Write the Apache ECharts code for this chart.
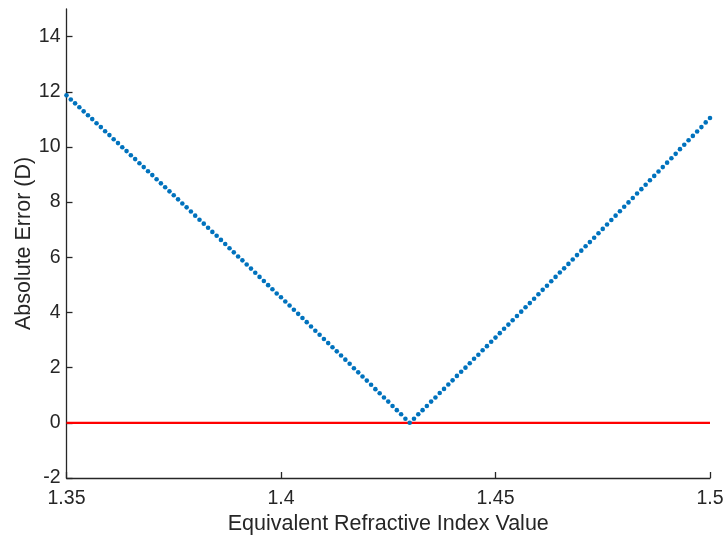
<!DOCTYPE html>
<html>
<head>
<meta charset="utf-8">
<script src="https://cdn.jsdelivr.net/npm/echarts@6/dist/echarts.min.js"></script>
<style>
  html, body { margin: 0; padding: 0; background: #ffffff; }
  #chart { width: 726px; height: 536px; }
</style>
</head>
<body>
<div id="chart"></div>
<script>
// Refractive index sweep: 1.350 to 1.500 in steps of 0.001
const indexStart = 1.35;
const indexStep = 0.001;

// Absolute error (D) at each index value
const absErrorValues = [
  11.87, 11.72, 11.58, 11.44, 11.29, 11.15, 11.01, 10.86, 10.72, 10.57,
  10.43, 10.28, 10.14, 9.99, 9.85, 9.70, 9.56, 9.41, 9.27, 9.12,
  8.98, 8.83, 8.68, 8.54, 8.39, 8.25, 8.10, 7.95, 7.81, 7.66,
  7.51, 7.36, 7.22, 7.07, 6.92, 6.78, 6.63, 6.48, 6.33, 6.18,
  6.03, 5.89, 5.74, 5.59, 5.44, 5.29, 5.14, 4.99, 4.84, 4.69,
  4.55, 4.40, 4.25, 4.10, 3.95, 3.80, 3.65, 3.49, 3.34, 3.19,
  3.04, 2.89, 2.74, 2.59, 2.44, 2.29, 2.14, 1.98, 1.83, 1.68,
  1.53, 1.38, 1.22, 1.07, 0.92, 0.77, 0.61, 0.46, 0.31, 0.15,
  0,
  0.15, 0.31, 0.46, 0.61, 0.77, 0.92, 1.08, 1.23, 1.39, 1.54,
  1.70, 1.85, 2.00, 2.16, 2.32, 2.47, 2.63, 2.78, 2.94, 3.09,
  3.25, 3.41, 3.56, 3.72, 3.87, 4.03, 4.19, 4.34, 4.50, 4.66,
  4.82, 4.97, 5.13, 5.29, 5.45, 5.60, 5.76, 5.92, 6.08, 6.24,
  6.40, 6.55, 6.71, 6.87, 7.03, 7.19, 7.35, 7.51, 7.67, 7.83,
  7.99, 8.15, 8.31, 8.47, 8.63, 8.79, 8.95, 9.11, 9.27, 9.43,
  9.59, 9.75, 9.92, 10.08, 10.24, 10.40, 10.56, 10.72, 10.89, 11.05
];

// Zero-error reference line
const refLineX = [1.35, 1.5];
const refLineY = [0, 0];

// Axis ticks
const xTicks = [1.35, 1.4, 1.45, 1.5];
const yTicks = [-2, 0, 2, 4, 6, 8, 10, 12, 14];

const scatterData = absErrorValues.map((v, i) => [
  +(indexStart + i * indexStep).toFixed(3), v
]);
const refLineData = refLineX.map((x, i) => [x, refLineY[i]]);

const axisColor = '#262626';
const fontFamily = 'Liberation Sans, Arial, Helvetica, sans-serif';
const tickFont = 19.5;
const titleFont = 21.5;

const chart = echarts.init(document.getElementById('chart'), null, { renderer: 'canvas' });
chart.setOption({
  animation: false,
  backgroundColor: '#ffffff',
  grid: { left: 66.5, right: 16, top: 9, bottom: 58, containLabel: false, outerBoundsMode: 'none' },
  xAxis: {
    type: 'value',
    min: 1.35,
    max: 1.5,
    name: 'Equivalent Refractive Index Value',
    nameLocation: 'middle',
    nameGap: 35,
    nameMoveOverlap: false,
    nameTextStyle: { color: axisColor, fontSize: titleFont, fontFamily: fontFamily },
    axisLine: { show: true, onZero: false, lineStyle: { color: axisColor, width: 1.3 } },
    axisTick: { show: true, inside: true, length: 6, customValues: xTicks, lineStyle: { color: axisColor, width: 1.3 } },
    axisLabel: {
      customValues: xTicks,
      color: axisColor, fontSize: tickFont, fontFamily: fontFamily, margin: 11,
      formatter: v => String(+v.toFixed(2))
    },
    splitLine: { show: false }
  },
  yAxis: {
    type: 'value',
    min: -2,
    max: 15,
    name: 'Absolute Error (D)',
    nameLocation: 'middle',
    nameGap: 31,
    nameMoveOverlap: false,
    nameRotate: 90,
    nameTextStyle: { color: axisColor, fontSize: titleFont, fontFamily: fontFamily },
    axisLine: { show: true, onZero: false, lineStyle: { color: axisColor, width: 1.3 } },
    axisTick: { show: true, inside: true, length: 6, customValues: yTicks, lineStyle: { color: axisColor, width: 1.3 } },
    axisLabel: {
      customValues: yTicks,
      color: axisColor, fontSize: tickFont, fontFamily: fontFamily, margin: 6
    },
    splitLine: { show: false }
  },
  series: [
    {
      type: 'line',
      data: refLineData,
      symbol: 'none',
      lineStyle: { color: '#ff0000', width: 2.2 },
      z: 1,
      silent: true
    },
    {
      type: 'scatter',
      data: scatterData,
      symbol: 'circle',
      symbolSize: 4.6,
      itemStyle: { color: '#0072bd', opacity: 1 },
      z: 2,
      silent: true
    }
  ]
});
</script>
</body>
</html>
